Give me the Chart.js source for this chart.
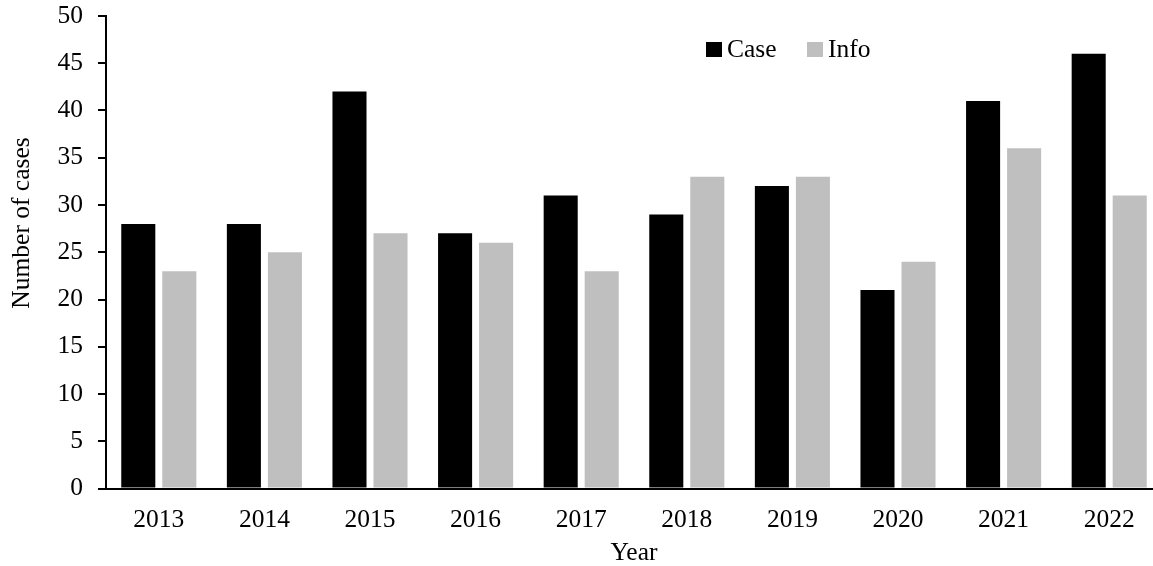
<!DOCTYPE html>
<html>
<head>
<meta charset="utf-8">
<script src="https://cdn.jsdelivr.net/npm/chart.js@4.4.0/dist/chart.umd.min.js"></script>
<style>
  html, body { margin: 0; padding: 0; background: #fff; overflow: hidden; }
  #wrap { width: 1164px; height: 566px; }
</style>
</head>
<body>
<div id="wrap"><canvas id="chart" width="1164" height="566"></canvas></div>
<script>
// Data
const years = ['2013', '2014', '2015', '2016', '2017', '2018', '2019', '2020', '2021', '2022'];
const caseCounts = [28, 28, 42, 27, 31, 29, 32, 21, 41, 46];
const infoCounts = [23, 25, 27, 26, 23, 33, 33, 24, 36, 31];
const yTicks = [0, 5, 10, 15, 20, 25, 30, 35, 40, 45, 50];
const yTitle = 'Number of cases';

const FONT = '"Times New Roman", "Liberation Serif", Times, serif';
const FS = 25.5;

// Legend drawn inside the plot area, top right
const innerLegend = {
  id: 'innerLegend',
  afterDraw(chart) {
    const { ctx, chartArea } = chart;
    let x = chartArea.left + 600;
    const y = chartArea.top + 41;
    ctx.save();
    ctx.font = FS + 'px ' + FONT;
    ctx.textBaseline = 'alphabetic';
    chart.data.datasets.forEach(ds => {
      ctx.fillStyle = ds.backgroundColor;
      ctx.fillRect(x, y - 15, 16, 15);
      ctx.fillStyle = '#000';
      ctx.fillText(ds.label, x + 21, y);
      x += 101;
    });
    ctx.restore();
  },
};

// y title sits a bit above the middle of the axis in the original
const yAxisTitle = {
  id: 'yAxisTitle',
  afterDraw(chart) {
    const { ctx } = chart;
    ctx.save();
    ctx.font = FS + 'px ' + FONT;
    ctx.fillStyle = '#000';
    ctx.textAlign = 'center';
    ctx.textBaseline = 'middle';
    ctx.translate(22, 223);
    ctx.rotate(-Math.PI / 2);
    ctx.fillText(yTitle, 0, 0);
    ctx.restore();
  },
};

new Chart(document.getElementById('chart'), {
  type: 'bar',
  data: {
    labels: years,
    datasets: [
      { label: 'Case', data: caseCounts, backgroundColor: '#000000' },
      { label: 'Info', data: infoCounts, backgroundColor: '#bfbfbf' },
    ],
  },
  options: {
    responsive: false,
    animation: false,
    categoryPercentage: 0.777,
    barPercentage: 0.83,
    layout: { padding: { top: 16, right: 2, bottom: 0, left: 0 } },
    plugins: {
      legend: { display: false },
      tooltip: { enabled: false },
    },
    scales: {
      x: {
        grid: { display: false, drawTicks: false },
        border: { display: true, color: '#000', width: 2 },
        ticks: { color: '#000', font: { family: FONT, size: FS }, padding: 16 },
        title: {
          display: true,
          text: 'Year',
          color: '#000',
          font: { family: FONT, size: FS, lineHeight: 1 },
          padding: { top: 0, bottom: 0 },
        },
        afterFit(scale) { scale.height = 77.5; },
      },
      y: {
        min: 0,
        max: 50,
        afterBuildTicks(scale) { scale.ticks = yTicks.map(v => ({ value: v })); },
        grid: { drawOnChartArea: false, drawTicks: true, tickLength: 8, color: '#000', lineWidth: 2 },
        border: { display: true, color: '#000', width: 2 },
        ticks: { color: '#000', font: { family: FONT, size: FS }, padding: 15 },
        afterFit(scale) {
          scale.width = 106;
          scale.paddingTop = 0;
          scale.paddingBottom = 0;
        },
      },
    },
  },
  plugins: [innerLegend, yAxisTitle],
});
</script>
</body>
</html>
